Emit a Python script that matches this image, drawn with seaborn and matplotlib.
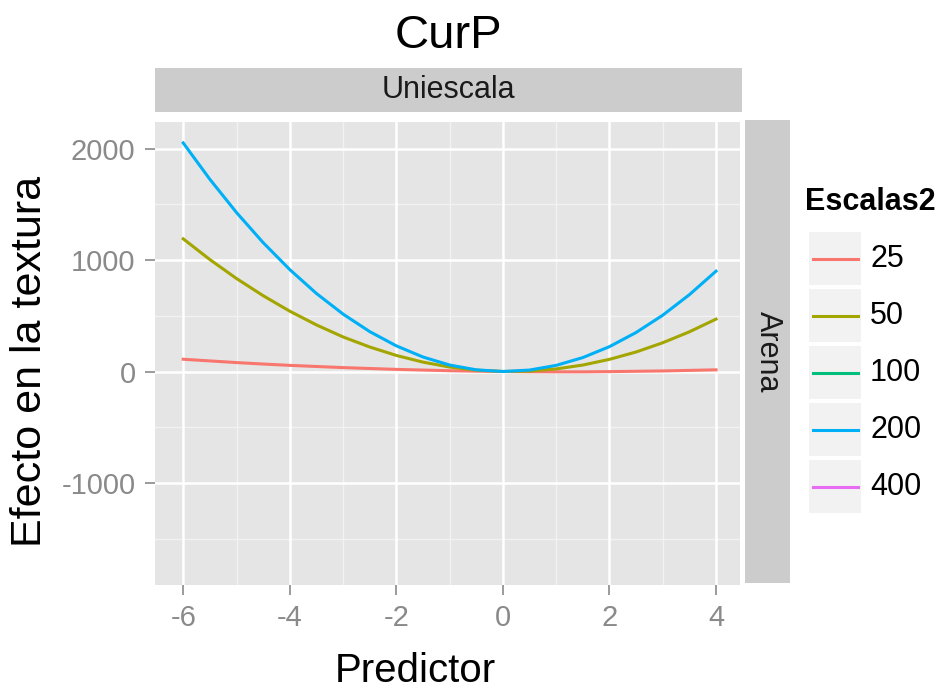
import numpy as np
import pandas as pd
import matplotlib
matplotlib.use("Agg")
import matplotlib.pyplot as plt
import seaborn as sns
from matplotlib.patches import Rectangle
from matplotlib.lines import Line2D

# ---------------- data ----------------
x_vals = [-6, -5.5, -5, -4.5, -4, -3.5, -3, -2.5, -2, -1.5, -1, -0.5,
          0, 0.5, 1, 1.5, 2, 2.5, 3, 3.5, 4]
y_25 = [110, 95, 80, 67, 55, 45, 35, 27, 19, 13, 7, 3,
        0, -2, -3, -3, -1, 2, 5, 10, 15]
y_50 = [1190, 1004, 834, 680, 541, 418, 310, 220, 144, 84, 40, 12,
        0, 4, 23, 58, 109, 175, 258, 356, 470]
y_200 = [2050, 1724, 1426, 1156, 914, 700, 515, 358, 230, 130, 58, 15,
         0, 13, 55, 125, 223, 350, 505, 689, 900]
levels = ["25", "50", "100", "200", "400"]
colors = ["#F8766D", "#A3A500", "#00BF7D", "#00B0F6", "#E76BF3"]
x_ticks = [-6, -4, -2, 0, 2, 4]
y_ticks = [-1000, 0, 1000, 2000]
y_tick_labels = ["-1000", "0", "1000", "2000"]

series = {"25": y_25, "50": y_50, "200": y_200}
df = pd.concat([pd.DataFrame({"Predictor": x_vals, "Efecto": v, "Escalas2": k})
                for k, v in series.items()], ignore_index=True)
palette = dict(zip(levels, colors))

# ---------------- figure ----------------
W, H = 947, 691
fig = plt.figure(figsize=(W / 100, H / 100), dpi=100)
fam = ["Liberation Sans", "DejaVu Sans"]
plt.rcParams["font.family"] = fam
plt.rcParams["axes.unicode_minus"] = False

def fx(px): return px / W
def fy(py): return 1 - py / H

pl, pr, pt, pb = 155, 740, 122, 585
ax = fig.add_axes([fx(pl), fy(pb), fx(pr) - fx(pl), fy(pt) - fy(pb)])
ax.set_facecolor("#E5E5E5")
for s in ax.spines.values():
    s.set_visible(False)

# grid
for v in [-5, -3, -1, 1, 3]:
    ax.axvline(v, color="#F2F2F2", lw=1.0, zorder=0)
for v in [-1500, -500, 500, 1500]:
    ax.axhline(v, color="#F2F2F2", lw=1.0, zorder=0)
for v in x_ticks:
    ax.axvline(v, color="white", lw=1.8, zorder=0.5)
for v in y_ticks:
    ax.axhline(v, color="white", lw=1.8, zorder=0.5)

sns.lineplot(data=df, x="Predictor", y="Efecto", hue="Escalas2",
             hue_order=levels, palette=palette, ax=ax, legend=False,
             lw=2.2, zorder=3)

ax.set_xlim(-6.53, 4.45)
ax.set_ylim(-1915, 2238)
ax.set_xticks(x_ticks)
ax.set_xticklabels([str(t) for t in x_ticks])
ax.set_yticks(y_ticks)
ax.set_yticklabels(y_tick_labels)
ax.tick_params(axis="both", colors="#8A8A8A", labelcolor="#8A8A8A",
               labelsize=21, length=7, width=1.2, pad=7)
ax.set_xlabel("")
ax.set_ylabel("")

# top strip
sax = fig.add_axes([fx(155), fy(112), fx(742) - fx(155), fy(68) - fy(112)])
sax.set_facecolor("#CCCCCC")
sax.set_xticks([]); sax.set_yticks([])
for s in sax.spines.values():
    s.set_visible(False)
sax.text(0.5, 0.5, "Uniescala", ha="center", va="center", fontsize=22,
         color="#1A1A1A", transform=sax.transAxes)

# right strip
rax = fig.add_axes([fx(745), fy(583), fx(790) - fx(745), fy(120) - fy(583)])
rax.set_facecolor("#CCCCCC")
rax.set_xticks([]); rax.set_yticks([])
for s in rax.spines.values():
    s.set_visible(False)
rax.text(0.5, 0.5, "Arena", ha="center", va="center", fontsize=22,
         color="#1A1A1A", rotation=-90, transform=rax.transAxes)

# titles
fig.text(fx(448), fy(36), "CurP", ha="center", va="center", fontsize=34, color="black")
fig.text(fx(415), fy(671), "Predictor", ha="center", va="center", fontsize=29, color="black")
fig.text(fx(30), fy(361), "Efecto en la textura", ha="center", va="center",
         fontsize=31, rotation=90, color="black")

# legend (overlay in pixel coordinates)
lax = fig.add_axes([0, 0, 1, 1], facecolor="none")
lax.set_xlim(0, W); lax.set_ylim(H, 0); lax.axis("off")
lax.text(805, 202, "Escalas2", ha="left", va="center", fontsize=22,
         fontweight="bold", color="black")
row_h = 57
top0 = 230
for i, (lev, col) in enumerate(zip(levels, colors)):
    y0 = top0 + i * row_h
    lax.add_patch(Rectangle((808, y0 + 1), 54, row_h - 2, facecolor="#F2F2F2",
                            edgecolor="white", lw=1.5))
    cy = y0 + row_h / 2
    lax.add_line(Line2D([813, 858], [cy, cy], color=col, lw=2.2))
    lax.text(870, cy, lev, ha="left", va="center", fontsize=22, color="black")

fig.savefig("out.png", dpi=100)
